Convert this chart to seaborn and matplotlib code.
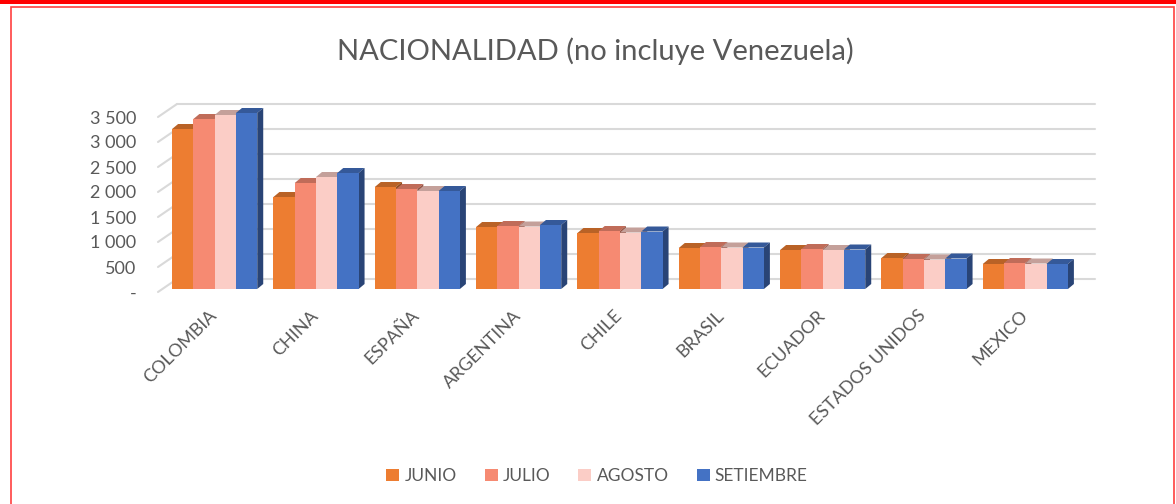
import matplotlib
matplotlib.use("Agg")
import matplotlib.pyplot as plt
import matplotlib.transforms as mtransforms
from matplotlib.patches import Polygon, Rectangle
from matplotlib.lines import Line2D
import seaborn as sns
import pandas as pd
import matplotlib.colors as mcolors

categories = ["COLOMBIA", "CHINA", "ESPAÑA", "ARGENTINA", "CHILE", "BRASIL",
              "ECUADOR", "ESTADOS UNIDOS", "MEXICO"]
series = ["JUNIO", "JULIO", "AGOSTO", "SETIEMBRE"]
junio = [3200, 1840, 2040, 1240, 1120, 820, 780, 620, 500]
julio = [3400, 2120, 2000, 1260, 1160, 840, 800, 600, 520]
agosto = [3480, 2240, 1960, 1250, 1130, 830, 780, 590, 510]
setiembre = [3520, 2320, 1960, 1280, 1150, 830, 790, 610, 500]
yticks = [0, 500, 1000, 1500, 2000, 2500, 3000, 3500]
title = "NACIONALIDAD (no incluye Venezuela)"

colors = ["#ED7D31", "#F68A72", "#FBCDC6", "#4472C4"]

df = pd.DataFrame({
    "cat": categories * 4,
    "serie": sum([[s] * len(categories) for s in series], []),
    "val": junio + julio + agosto + setiembre,
})

sns.set_theme(style="white")
FONT = ["Lato", "DejaVu Sans"]
plt.rcParams["font.family"] = FONT
TXT = "#595959"

W, H, DPI = 1176, 504, 100
fig = plt.figure(figsize=(W / DPI, H / DPI), dpi=DPI)

# axes: x from 164 to 1076 px, bar base at 289 px, 3500 at 114 px (from top)
left, right = 164, 1076
y0px, ytop = 289, 114
ax = fig.add_axes([left / W, (H - y0px) / H, (right - left) / W, (y0px - ytop) / H])
ax.patch.set_visible(False)

sns.barplot(data=df, x="cat", y="val", hue="serie", palette=colors,
            width=0.84, gap=0, dodge=True, ax=ax, saturation=1,
            edgecolor="none", linewidth=0, legend=False, zorder=3)
ax.set_xlim(-0.5, len(categories) - 0.5)
ax.set_ylim(0, 3500)
for s in ax.spines.values():
    s.set_visible(False)
ax.set_xlabel("")
ax.set_ylabel("")

# depth offsets (pixels): front plane is 3 px in front of bars
dxp, dyp, front = 19, 13, 3
gridc = "#D9D9D9"
for v in yticks:
    fx, fy = ax.transData.transform((-0.5, v))
    bx, by = ax.transData.transform((len(categories) - 0.5, v))
    fy -= front
    fx -= 6
    fig.add_artist(Line2D([fx + dxp, bx + dxp], [fy + dyp, fy + dyp], transform=None,
                          color=gridc, lw=1.5, zorder=0))
    fig.add_artist(Line2D([fx, fx + dxp], [fy, fy + dyp], transform=None,
                          color=gridc, lw=1.5, zorder=0))

ax.set_yticks(yticks)
ax.set_yticklabels(["-" if v == 0 else f"{v:,}".replace(",", " ") for v in yticks],
                   fontsize=13, color=TXT)
ax.tick_params(axis="y", length=0, pad=20)
shift = mtransforms.ScaledTranslation(0, -front / DPI, fig.dpi_scale_trans)
for lab in ax.get_yticklabels():
    lab.set_transform(lab.get_transform() + shift)
ax.tick_params(axis="x", length=0, pad=9)
ax.set_xticks(range(len(categories)))
ax.set_xticklabels(categories, rotation=45, ha="right", rotation_mode="anchor",
                   fontsize=13, color=TXT)
xshift = mtransforms.ScaledTranslation(-6 / DPI, -6 / DPI, fig.dpi_scale_trans)
for lab in ax.get_xticklabels():
    lab.set_transform(lab.get_transform() + xshift)

# 3D faces for each bar
def darker(c, f):
    r, g, b = mcolors.to_rgb(c)
    return (r * f, g * f, b * f)

bars = sorted([p for p in ax.patches if p.get_height() > 0], key=lambda p: p.get_x())
sx = ax.transData.transform((1, 0))[0] - ax.transData.transform((0, 0))[0]
sy = ax.transData.transform((0, 1))[1] - ax.transData.transform((0, 0))[1]
ddx, ddy = 6 / sx, 5 / sy
for i, p in enumerate(bars):
    x0, w, h = p.get_x(), p.get_width(), p.get_height()
    x1 = x0 + w
    fc = p.get_facecolor()
    top = Polygon([(x0, h), (x1, h), (x1 + ddx, h + ddy), (x0 + ddx, h + ddy)],
                  closed=True, facecolor=darker(fc, 0.78), edgecolor="none",
                  zorder=3 + 2 * i, clip_on=False)
    side = Polygon([(x1, 0), (x1, h), (x1 + ddx, h + ddy), (x1 + ddx, ddy)],
                   closed=True, facecolor=darker(fc, 0.6), edgecolor="none",
                   zorder=3 + 2 * i, clip_on=False)
    ax.add_patch(top)
    ax.add_patch(side)
    p.set_zorder(4 + 2 * i)
    p.set_clip_on(False)

# title
fig.text(595 / W, 1 - 51 / H, title, ha="center", va="center", fontsize=21,
         color=TXT, family=FONT)

# legend
handles = [Rectangle((0, 0), 1, 1, facecolor=c, edgecolor="none") for c in colors]
fig.legend(handles, series, loc="center", bbox_to_anchor=(597 / W, 1 - 476 / H),
           ncol=4, frameon=False, fontsize=12.5, handlelength=0.75, handleheight=0.75,
           handletextpad=0.3, columnspacing=1.6, labelcolor=TXT)

# red border
fig.add_artist(Rectangle((0, 1 - 4 / H), 1, 4 / H, transform=fig.transFigure,
                         facecolor="#FF0000", edgecolor="none"))
fig.add_artist(Rectangle((11 / W, -0.01), (1174 - 11) / W, 1 - 7 / H + 0.01,
                         transform=fig.transFigure, facecolor="none",
                         edgecolor="#FF4040", lw=1.2))

fig.savefig("out.png", dpi=DPI)
